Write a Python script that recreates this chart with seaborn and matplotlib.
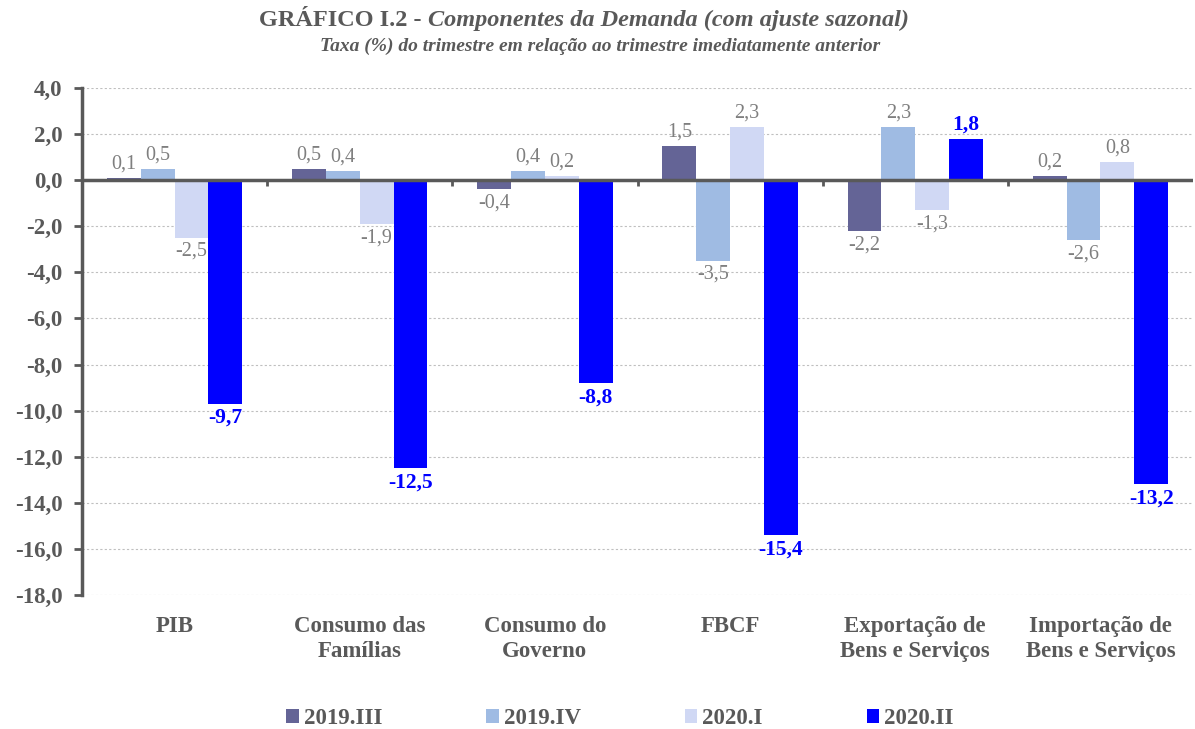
import matplotlib
matplotlib.use("Agg")
import matplotlib.pyplot as plt
import seaborn as sns
import pandas as pd
import numpy as np

categories = ["PIB", "Consumo das\nFamílias", "Consumo do\nGoverno", "FBCF",
              "Exportação de\nBens e Serviços", "Importação de\nBens e Serviços"]
series = ["2019.III", "2019.IV", "2020.I", "2020.II"]
v_2019_III = [0.1, 0.5, -0.4, 1.5, -2.2, 0.2]
v_2019_IV = [0.5, 0.4, 0.4, -3.5, 2.3, -2.6]
v_2020_I = [-2.5, -1.9, 0.2, 2.3, -1.3, 0.8]
v_2020_II = [-9.7, -12.5, -8.8, -15.4, 1.8, -13.2]
yticks = [4, 2, 0, -2, -4, -6, -8, -10, -12, -14, -16, -18]

colors = ["#646496", "#9fbbe3", "#d0d8f4", "#0000ff"]
label_colors = ["#7f7f7f", "#7f7f7f", "#7f7f7f", "#0000ff"]
label_weights = ["normal", "normal", "normal", "bold"]
label_sizes = [14.5, 14.5, 14.5, 15.5]
dark = "#595959"

rows = []
for s, vals in zip(series, [v_2019_III, v_2019_IV, v_2020_I, v_2020_II]):
    for c, v in zip(categories, vals):
        rows.append({"cat": c, "serie": s, "val": v})
df = pd.DataFrame(rows)

sns.set_theme(style="white")
plt.rcParams["font.family"] = ["Liberation Serif", "DejaVu Serif"]

fig = plt.figure(figsize=(11.95, 7.29), dpi=100)
ax = fig.add_axes([82 / 1195, (729 - 595) / 729, (1193 - 82) / 1195, 507 / 729])

sns.barplot(data=df, x="cat", y="val", hue="serie", order=categories,
            hue_order=series, palette=colors, width=0.73, saturation=1,
            ax=ax, legend=True, edgecolor="none")

for cont, vals, lc, lw, ls in zip(ax.containers, [v_2019_III, v_2019_IV, v_2020_I, v_2020_II],
                                  label_colors, label_weights, label_sizes):
    ax.bar_label(cont, labels=[f"{v:.1f}".replace(".", ",") for v in vals],
                 padding=3, color=lc, fontsize=ls, fontweight=lw)

ax.set_ylim(-18, 4)
ax.set_xlim(-0.5, len(categories) - 0.5)
ax.set_yticks(yticks)
ax.set_yticklabels([f"{t:.1f}".replace(".", ",") for t in yticks])
ax.yaxis.grid(True, linestyle=(0, (2, 2)), color="#bfbfbf", linewidth=0.8)
ax.set_axisbelow(True)
for sp in ["top", "right", "bottom"]:
    ax.spines[sp].set_visible(False)
ax.spines["left"].set_color(dark)
ax.spines["left"].set_linewidth(2.5)
ax.axhline(0, color=dark, linewidth=2.5, zorder=3)
ax.vlines(np.arange(len(categories) - 1) + 0.5, -0.25, 0, color=dark, linewidth=2, zorder=3)
ax.tick_params(axis="y", direction="out", length=6, width=2, color=dark,
               labelsize=16.5, labelcolor=dark, left=True, pad=8)
ax.tick_params(axis="x", length=0, labelsize=16.5, labelcolor=dark, pad=15)
for t in ax.get_yticklabels() + ax.get_xticklabels():
    t.set_fontweight("bold")
for t in ax.get_xticklabels():
    t.set_linespacing(1.25)
ax.set_xlabel("")
ax.set_ylabel("")

handles, labels = ax.get_legend_handles_labels()
ax.get_legend().remove()
fig.legend(handles, labels, loc="center", bbox_to_anchor=(620 / 1195, 1 - 719 / 729),
           ncol=4, frameon=False, handlelength=0.55, handleheight=0.55, handletextpad=0.2,
           columnspacing=4.55, borderpad=0, prop={"size": 16.5, "weight": "bold"}, labelcolor=dark)

# Title with mixed styles
t1 = fig.text(0, 1 - 20 / 729, "GRÁFICO I.2 - ", fontsize=17.5, fontweight="bold",
              color=dark, va="center", ha="left")
t2 = fig.text(0, 1 - 20 / 729, "Componentes da Demanda (com ajuste sazonal)", fontsize=17.5,
              fontweight="bold", fontstyle="italic", color=dark, va="center", ha="left")
fig.text(600 / 1195, 1 - 46 / 729, "Taxa (%) do trimestre em relação ao trimestre imediatamente anterior",
         fontsize=14, fontweight="bold", fontstyle="italic", color=dark, va="center", ha="center")
fig.canvas.draw()
r = fig.canvas.get_renderer()
w1 = t1.get_window_extent(r).width
w2 = t2.get_window_extent(r).width
x0 = 584 - (w1 + w2) / 2
t1.set_x(x0 / 1195)
t2.set_x((x0 + w1) / 1195)

fig.savefig("out.png", dpi=100)
